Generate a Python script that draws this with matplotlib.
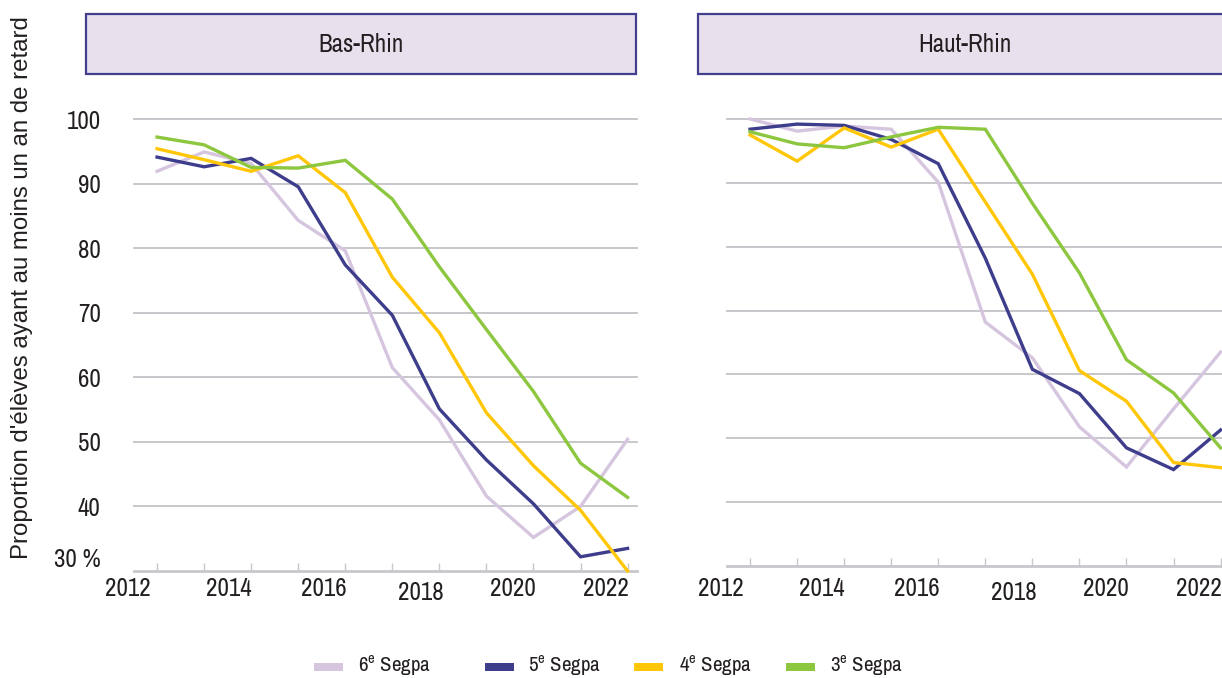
import matplotlib
matplotlib.use("Agg")
import matplotlib.pyplot as plt
import matplotlib.transforms as mtransforms
from matplotlib.patches import Rectangle

plt.rcParams['font.family'] = ['Archivo Narrow', 'DejaVu Sans']
plt.rcParams['mathtext.fontset'] = 'custom'
plt.rcParams['mathtext.rm'] = 'Archivo Narrow'

years = list(range(2012, 2023))
series_names = ["6$^{\\mathrm{e}}$ Segpa", "5$^{\\mathrm{e}}$ Segpa",
                "4$^{\\mathrm{e}}$ Segpa", "3$^{\\mathrm{e}}$ Segpa"]
colors = ["#D6C5DF", "#3D3D8C", "#FFC708", "#8DC63F"]

bas_rhin_6e = [91.9, 94.9, 93.1, 84.3, 79.6, 61.5, 53.4, 41.6, 35.2, 40.0, 50.4]
bas_rhin_5e = [94.1, 92.6, 93.9, 89.5, 77.4, 69.6, 55.1, 47.2, 40.4, 32.2, 33.5]
bas_rhin_4e = [95.4, 93.7, 91.9, 94.3, 88.6, 75.5, 66.9, 54.5, 46.3, 39.4, 30.0]
bas_rhin_3e = [97.2, 96.0, 92.5, 92.4, 93.6, 87.6, 77.1, 67.4, 57.8, 46.7, 41.4]

haut_rhin_6e = [100.0, 98.1, 98.9, 98.4, 90.1, 68.2, 62.6, 51.8, 45.5, 54.6, 63.5]
haut_rhin_5e = [98.4, 99.2, 99.0, 96.8, 93.0, 78.2, 60.8, 57.0, 48.5, 45.1, 51.3]
haut_rhin_4e = [97.5, 93.4, 98.6, 95.6, 98.4, 87.0, 75.7, 60.6, 55.8, 46.2, 45.4]
haut_rhin_3e = [98.0, 96.1, 95.5, 97.2, 98.7, 98.4, 86.8, 75.9, 62.3, 57.1, 48.5]

panels = ["Bas-Rhin", "Haut-Rhin"]
y_ticks = [30, 40, 50, 60, 70, 80, 90, 100]
y_labels = ["30 %", "40", "50", "60", "70", "80", "90", "100"]
x_labels = ["2012", "2014", "2016", "2018", "2020", "2022"]
y_title = "Proportion d'élèves ayant au moins un an de retard"

data = [
    [bas_rhin_6e, bas_rhin_5e, bas_rhin_4e, bas_rhin_3e],
    [haut_rhin_6e, haut_rhin_5e, haut_rhin_4e, haut_rhin_3e],
]

W, H = 1222, 678
fig = plt.figure(figsize=(W / 100, H / 100), dpi=100)

grid_col = "#C3C3C7"
text_col = "#231F20"

# axes boxes in pixels: left, right, y(100), y(30)
boxes = [(134, 637, 119, 571), (727, 1230, 119, 566)]
strips = [(86, 636), (698, 1232)]
lab_off = [-0.62, -0.48, -0.45, -0.40, -0.43, -0.45]

for k, (name, series) in enumerate(zip(panels, data)):
    x0, x1, ytop, ybot = boxes[k]
    ax = fig.add_axes([x0 / W, 1 - ybot / H, (x1 - x0) / W, (ybot - ytop) / H])
    ax.set_xlim(2011.51, 2022.2)
    ax.set_ylim(30, 100)
    for vals, c in zip(series, colors):
        ax.plot(years, vals, color=c, lw=2.4, clip_on=False, solid_joinstyle='miter', zorder=3)
    for yv in y_ticks[1:]:
        ax.axhline(yv, color=grid_col, lw=1.3, zorder=1, clip_on=False)
    for s in ["top", "left", "right"]:
        ax.spines[s].set_visible(False)
    ax.spines["bottom"].set_color("#C8C8CC")
    ax.spines["bottom"].set_linewidth(2)
    ax.set_xticks(years)
    ax.set_xticklabels([])
    ax.tick_params(axis='x', direction='in', length=6, width=1, color="#C8C8CC")
    if k == 0:
        ax.set_yticks(y_ticks)
        ax.set_yticklabels(y_labels, fontsize=18, color=text_col)
        ax.tick_params(axis='y', length=0, pad=24)
        ax.get_yticklabels()[0].set_va('bottom')
    else:
        ax.set_yticks([])
    trans = mtransforms.blended_transform_factory(ax.transData, fig.transFigure)
    for i, lab in enumerate(x_labels):
        yy = 1 - (592 if lab == "2018" else 588) / H
        ax.text(2012 + 2 * i + lab_off[i], yy, lab, transform=trans, ha='center', va='center',
                fontsize=18, color=text_col, clip_on=False)
    sx0, sx1 = strips[k]
    fig.patches.append(Rectangle((sx0 / W, 1 - 74 / H), (sx1 - sx0) / W, 60 / H,
                                 transform=fig.transFigure, facecolor="#E9E0EE",
                                 edgecolor="#443E8E", lw=1.6))
    fig.text((sx0 + sx1) / 2 / W, 1 - 45 / H, name, ha='center', va='center',
             fontsize=18, color=text_col)

fig.text(22 / W, 1 - 288 / H, y_title, rotation=90, ha='center', va='center',
         fontsize=17.3, color=text_col, family=['Liberation Sans', 'DejaVu Sans'])

# legend
leg_patch_x = [314, 485, 634, 786]
leg_text_x = [358, 528, 679, 830]
for i, name in enumerate(series_names):
    fig.patches.append(Rectangle((leg_patch_x[i] / W, 1 - 671 / H), 29 / W, 8 / H,
                                 transform=fig.transFigure, facecolor=colors[i], lw=0))
    fig.text(leg_text_x[i] / W, 1 - 666 / H, name, ha='left', va='center',
             fontsize=15, color=text_col)

fig.savefig("out.png", dpi=100)
